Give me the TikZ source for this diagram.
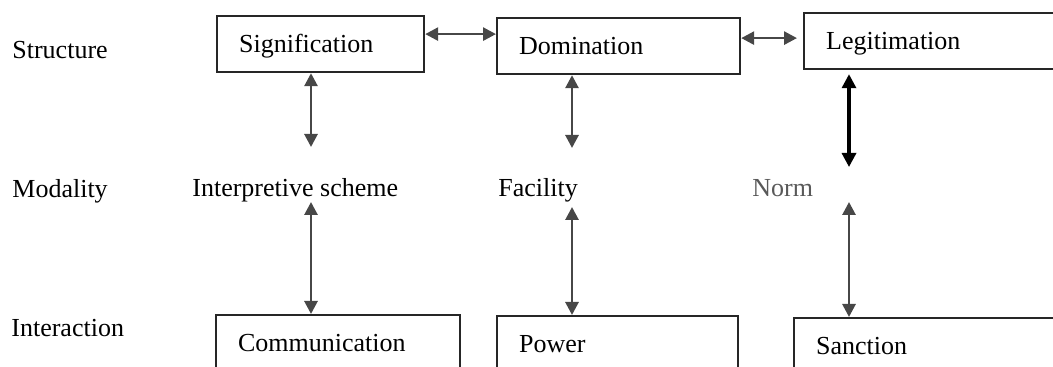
\documentclass[tikz,border=0pt]{standalone}
\usepackage{fontspec}
\setmainfont{Liberation Serif}
\usetikzlibrary{arrows.meta,calc}
\definecolor{boxline}{gray}{0.15}
\definecolor{arrowgray}{gray}{0.28}
\begin{document}
\begin{tikzpicture}[x=0.5pt,y=-0.5pt,
  every node/.style={font=\fontsize{13}{15}\selectfont},
  box/.style={draw=boxline, line width=1.1pt, anchor=north west, inner xsep=11pt,
    align=left, minimum height=28pt, text height=10pt, text depth=1.5pt},
  lbl/.style={anchor=base west, inner sep=0pt},
  garrow/.style={draw=arrowgray, line width=1.4pt,
    {Triangle[length=6.5pt,width=6.5pt]}-{Triangle[length=6.5pt,width=6.5pt]}},
  barrow/.style={draw=black, line width=1.6pt,
    {Triangle[length=7pt,width=7pt]}-{Triangle[length=7pt,width=7pt]}}]
\useasboundingbox (0,0) rectangle (1053,367);
\clip (0,0) rectangle (1053,367);

% row labels
\node[lbl] (rowS) at (12,59)  {Structure};
\node[lbl] (rowM) at (12,198) {Modality};
\node[lbl] (rowI) at (11,337) {Interaction};

% structure boxes
\node[box, text width=81.5pt]  (sig) at (216,15)  {Signification};
\node[box, text width=99.5pt]  (dom) at (496,17)  {Domination};
\node[box, text width=106.5pt] (leg) at (803,12)  {Legitimation};

% modalities
\node[lbl] (interp) at (192,197) {Interpretive scheme};
\node[lbl] (fac)    at (498,197) {Facility};
\node[lbl, text=black!65] (norm) at (752,197) {Norm};

% interaction boxes
\node[box, text width=100pt]   (com) at (215,314) {Communication};
\node[box, text width=98.5pt]  (pow) at (496,315) {Power};
\node[box, text width=111.5pt] (san) at (793,317) {Sanction};

% horizontal links between structures
\coordinate (h1) at ($(sig.east)+(0,-10)$);
\draw[garrow] (h1) -- (h1 -| dom.west);
\coordinate (h2) at ($(dom.east)+(0,-8)$);
\coordinate (h3) at ($(h2 -| leg.west)+(-6,0)$);
\draw[garrow] (h2) -- (h3);

% vertical links through the modalities
\coordinate (v1t) at (311,147);
\coordinate (v1b) at (311,202);
\coordinate (v2t) at (572,148);
\coordinate (v2b) at (572,207);
\coordinate (v3t) at (849,167);
\coordinate (v3b) at (849,202);
\draw[garrow] (sig.south -| v1t) -- (v1t);
\draw[garrow] (v1b) -- (com.north -| v1b);
\draw[garrow] (dom.south -| v2t) -- (v2t);
\draw[garrow] (v2b) -- (pow.north -| v2b);
\draw[barrow, shorten <=2pt] (leg.south -| v3t) -- (v3t);
\draw[garrow] (v3b) -- (san.north -| v3b);
\end{tikzpicture}
\end{document}
